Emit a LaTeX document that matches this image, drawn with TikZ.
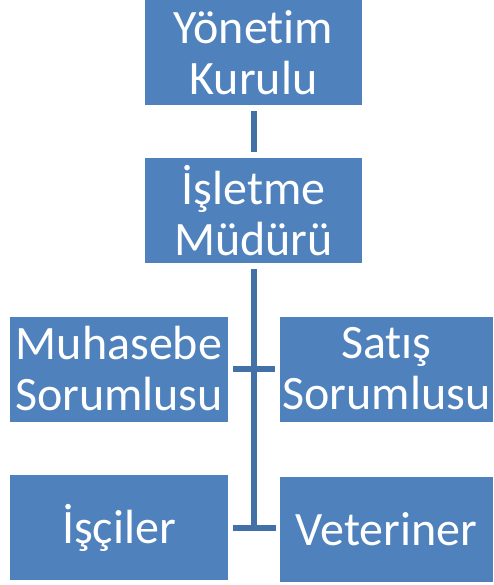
\documentclass[tikz,border=0pt]{standalone}
\usepackage{fontspec}
\setmainfont{Carlito}[Ligatures={NoCommon}]
\usetikzlibrary{positioning,calc}
\definecolor{colorbox}  {RGB}{ 79,129,189}
\definecolor{colorline} {RGB}{ 65,113,166}
\definecolor{colortext} {RGB}{255,255,255}

\begin{document}
\begin{tikzpicture}[
    x=1pt, y=-1pt,
    base/.style={text=colortext,font={\fontsize{48}{51}\selectfont},inner sep=0pt,align=center,rectangle,fill=colorbox},
    unit/.style={base,minimum width=217pt,minimum height=105pt,text width=217pt},
    link/.style={draw=colorline,line width=6pt},
]
    \useasboundingbox (0,0) rectangle (493,585);

    \node[unit] at (253.5,52.5)                        (yonetim)   {Yönetim\\Kurulu};
    \node[unit] at (253.5,210.5)                       (isletme)   {İşletme\\Müdürü};

    \node[unit,minimum width=218pt,text width=218pt] at (119,369)   (muhasebe)  {Muhasebe\\Sorumlusu};
    \node[unit,minimum width=213pt,text width=213pt] at (386.5,369) (satis)     {Satış\\Sorumlusu};

    \node[unit,minimum width=218pt,text width=218pt] at (119,527.5)   (isciler)   {İşçiler};
    \node[unit,minimum width=213pt,text width=213pt] at (386.5,529.5) (veteriner) {Veteriner};

    \draw[link,shorten <=6pt,shorten >=6pt] (yonetim) -- (isletme);
    \draw[link,shorten <=6pt] (isletme.south) -- (isletme.south |- isciler.east);
    \draw[link,shorten <=5pt,shorten >=5pt] (muhasebe.east) -- (satis.west);
    \draw[link,shorten <=5pt,shorten >=4pt] (isciler.east) -- (isciler.east -| veteriner.west);

\end{tikzpicture}
\end{document}
